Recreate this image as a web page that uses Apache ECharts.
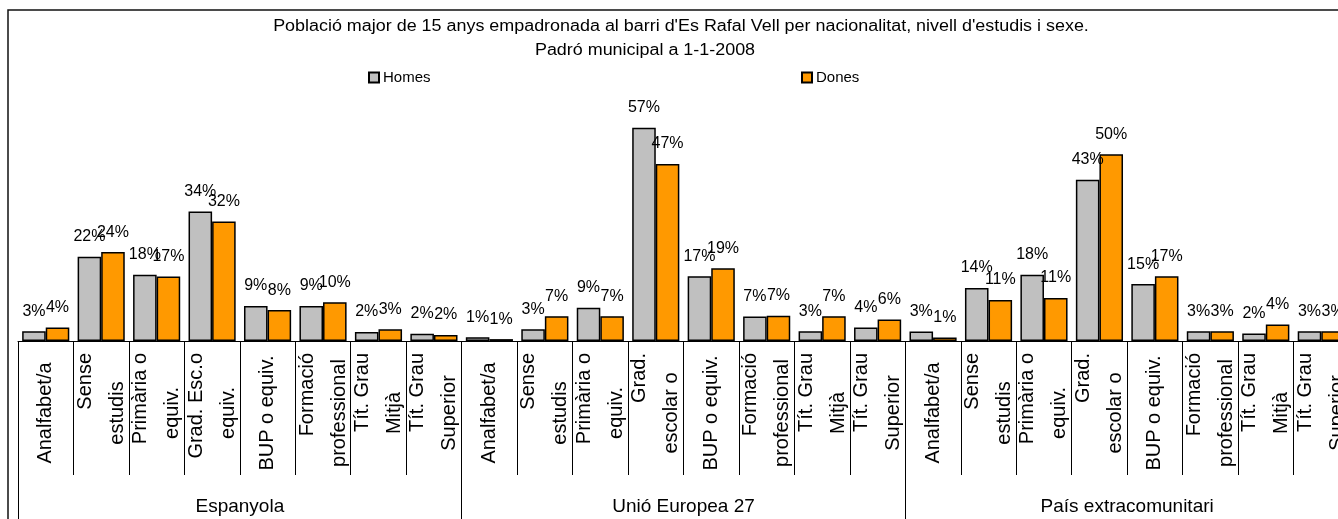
<!DOCTYPE html>
<html>
<head>
<meta charset="utf-8">
<script src="https://cdn.jsdelivr.net/npm/echarts@6/dist/echarts.min.js"></script>
<style>
html,body{margin:0;padding:0;background:#fff;overflow:hidden;width:1338px;height:519px;}
#chart{width:1420px;height:519px;}
</style>
</head>
<body>
<div id="chart"></div>
<script>
const titleLine1 = "Població major de 15 anys empadronada al barri d'Es Rafal Vell per nacionalitat, nivell d'estudis i sexe.";
const titleLine2 = "Padró municipal a 1-1-2008";
const groups = ['Espanyola', 'Unió Europea 27', 'País extracomunitari'];
const levelsEsp = ['Analfabet/a', 'Sense\nestudis', 'Primària o\nequiv.', 'Grad. Esc.o\nequiv.', 'BUP o equiv.', 'Formació\nprofessional', 'Tít. Grau\nMitjà', 'Tít. Grau\nSuperior'];
const levelsUE = ['Analfabet/a', 'Sense\nestudis', 'Primària o\nequiv.', 'Grad.\nescolar o', 'BUP o equiv.', 'Formació\nprofessional', 'Tít. Grau\nMitjà', 'Tít. Grau\nSuperior'];
const levelsExtra = ['Analfabet/a', 'Sense\nestudis', 'Primària o\nequiv.', 'Grad.\nescolar o', 'BUP o equiv.', 'Formació\nprofessional', 'Tít. Grau\nMitjà', 'Tít. Grau\nSuperior'];
const categories = levelsEsp.concat(levelsUE, levelsExtra);
const seriesNames = ['Homes', 'Dones'];
// percentages (%)
const homesEsp   = [2.6, 22.4, 17.6, 34.4, 9.3, 9.3, 2.4, 1.9];
const homesUE    = [1.0, 3.1, 8.8, 56.6, 17.2, 6.5, 2.6, 3.6];
const homesExtra = [2.5, 14.1, 17.6, 42.8, 15.1, 2.6, 2.0, 2.6];
const donesEsp   = [3.6, 23.6, 17.1, 31.7, 8.2, 10.3, 3.1, 1.6];
const donesUE    = [0.5, 6.6, 6.6, 47.0, 19.3, 6.7, 6.6, 5.7];
const donesExtra = [0.9, 10.9, 11.4, 49.6, 17.2, 2.6, 4.4, 2.6];

const homes = homesEsp.concat(homesUE, homesExtra);
const dones = donesEsp.concat(donesUE, donesExtra);

const FONT = "'Liberation Sans', Arial, sans-serif";
const chart = echarts.init(document.getElementById('chart'), null, {renderer: 'canvas', width: 1420, height: 519});

const catIdx = categories.map((c, i) => String(i));

const labelStyle = {
  show: true, position: 'top', distance: 12,
  fontSize: 16, color: '#000', fontFamily: FONT,
  formatter: p => Math.round(p.value) + '%'
};

const CAT_FS = 20;

const option = {
  animation: false,
  backgroundColor: '#fff',
  graphic: [
    {type: 'rect', shape: {x: 8, y: 10, width: 1500, height: 600}, style: {fill: 'none', stroke: '#111', lineWidth: 1.5}, silent: true, z: 0},
    {type: 'text', x: 681, y: 19, scaleX: 1.12, style: {text: titleLine1, textAlign: 'center', fontSize: 16, fontFamily: FONT, fill: '#000'}},
    {type: 'text', x: 645, y: 43, scaleX: 1.12, style: {text: titleLine2, textAlign: 'center', fontSize: 16, fontFamily: FONT, fill: '#000'}}
  ],
  legend: [
    {data: ['Homes'], left: 368, top: 70, padding: 0, icon: 'rect', itemWidth: 10, itemHeight: 10, itemGap: 5,
     textStyle: {fontSize: 15, fontFamily: FONT, color: '#000', padding: [0, 0, 0, -1]}},
    {data: ['Dones'], left: 801, top: 70, padding: 0, icon: 'rect', itemWidth: 10, itemHeight: 10, itemGap: 5,
     textStyle: {fontSize: 15, fontFamily: FONT, color: '#000', padding: [0, 0, 0, -1]}}
  ],
  grid: {left: 18, top: 115, width: 1331, bottom: 178, containLabel: false},
  xAxis: [
    {
      type: 'category', data: catIdx, position: 'bottom',
      axisLine: {show: true, lineStyle: {color: '#000', width: 1}},
      axisTick: {show: true, interval: 0, length: 134, lineStyle: {color: '#000', width: 1}},
      axisLabel: {
        interval: 0, rotate: 90, margin: 12, width: 120,
        fontSize: CAT_FS, fontFamily: FONT, color: '#000', lineHeight: 32,
        formatter: (v) => {
          const lines = categories[+v].split('\n');
          if (lines.length === 1) return '{c|' + lines[0] + '}';
          return '{a|' + lines[0] + '}\n{b|' + lines[1] + '}';
        },
        rich: {
          a: {align: 'right', fontSize: CAT_FS, fontFamily: FONT, color: '#000', lineHeight: 32},
          b: {align: 'center', fontSize: CAT_FS, fontFamily: FONT, color: '#000', lineHeight: 32},
          c: {align: 'center', fontSize: CAT_FS, fontFamily: FONT, color: '#000', lineHeight: 32}
        }
      }
    },
    {
      type: 'category', data: groups, position: 'bottom', gridIndex: 0,
      axisLine: {show: false},
      axisTick: {show: true, interval: 0, length: 200, lineStyle: {color: '#000', width: 1}},
      axisLabel: {interval: 0, margin: 156, fontSize: 19, fontFamily: FONT, color: '#000'}
    }
  ],
  yAxis: {type: 'value', min: 0, max: 60, show: false, splitLine: {show: false}},
  series: [
    {name: seriesNames[0], type: 'bar', data: homes, xAxisIndex: 0, barGap: '0%', barCategoryGap: '15%',
     itemStyle: {color: '#C0C0C0', borderColor: '#000', borderWidth: 1.5}, label: labelStyle},
    {name: seriesNames[1], type: 'bar', data: dones, xAxisIndex: 0, barGap: '0%', barCategoryGap: '15%',
     itemStyle: {color: '#FF9900', borderColor: '#000', borderWidth: 1.5}, label: labelStyle}
  ]
};
chart.setOption(option);
</script>
</body>
</html>
